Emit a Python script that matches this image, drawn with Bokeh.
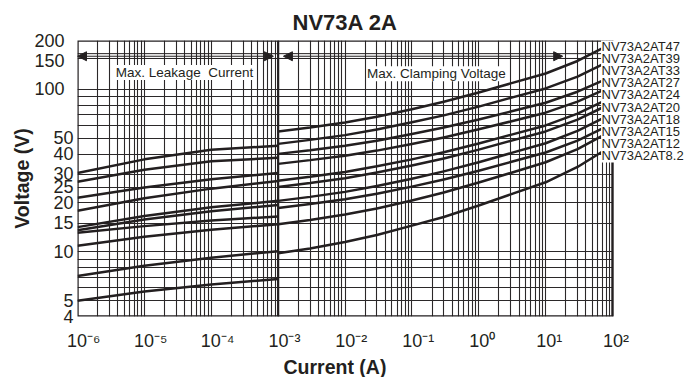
from bokeh.plotting import figure
from bokeh.models import (FixedTicker, Span, Arrow, NormalHead, Label, LabelSet,
                          ColumnDataSource, BoxAnnotation, Title)
from bokeh.core.properties import value
from bokeh.embed import file_html
from bokeh.resources import INLINE
import math

# ---------------- data ----------------
title_text = "NV73A 2A"
x_title = "Current (A)"
y_title = "Voltage (V)"
leak_text = "Max. Leakage\u00a0 Current"
clamp_text = "Max. Clamping Voltage"

parts = ["NV73A2AT47", "NV73A2AT39", "NV73A2AT33", "NV73A2AT27", "NV73A2AT24",
         "NV73A2AT20", "NV73A2AT18", "NV73A2AT15", "NV73A2AT12", "NV73A2AT8.2"]

current_leak = [1e-6, 1e-5, 1e-4, 1e-3]
current_clamp = [1e-3, 3e-3, 1e-2, 3e-2, 0.1, 0.3, 1, 3, 10, 30, 70]

leak_47 = [30.6, 37.1, 42.5, 45.0]
leak_39 = [27.0, 32.0, 36.1, 37.9]
leak_33 = [21.5, 24.9, 28.0, 30.6]
leak_27 = [17.9, 21.4, 24.5, 27.3]
leak_24 = [14.2, 16.6, 18.8, 20.6]
leak_20 = [13.6, 15.8, 17.8, 19.4]
leak_18 = [13.1, 14.4, 15.6, 16.5]
leak_15 = [10.9, 12.4, 13.7, 14.8]
leak_12 = [7.1, 8.2, 9.2, 10.1]
leak_8p2 = [5.0, 5.7, 6.3, 6.8]

clamp_47 = [55.0, 58.3, 62.5, 67.9, 75.5, 84.0, 95.7, 108.9, 125.3, 149.6, 178.6]
clamp_39 = [46.2, 48.9, 52.3, 56.6, 62.7, 69.2, 78.3, 88.7, 101.4, 119.9, 141.9]
clamp_33 = [40.1, 42.2, 45.0, 48.3, 53.1, 58.2, 65.3, 73.1, 82.8, 96.8, 113.0]
clamp_27 = [34.8, 36.7, 39.1, 42.0, 46.1, 50.6, 56.8, 63.5, 71.9, 84.1, 98.2]
clamp_24 = [27.4, 29.0, 31.0, 33.6, 37.1, 41.0, 46.4, 52.5, 60.0, 71.0, 83.9]
clamp_20 = [25.1, 26.5, 28.4, 30.8, 34.0, 37.6, 42.6, 48.2, 55.1, 65.2, 77.1]
clamp_18 = [20.6, 21.8, 23.4, 25.4, 28.2, 31.3, 35.6, 40.5, 46.6, 55.5, 66.1]
clamp_15 = [18.6, 19.7, 21.1, 22.8, 25.2, 27.9, 31.6, 35.7, 40.9, 48.4, 57.3]
clamp_12 = [14.8, 15.7, 17.0, 18.5, 20.7, 23.2, 26.7, 30.6, 35.6, 42.9, 51.8]
clamp_8p2 = [9.8, 10.5, 11.5, 12.7, 14.5, 16.4, 19.3, 22.6, 26.8, 33.3, 41.3]

x_ticks = [1e-6, 1e-5, 1e-4, 1e-3, 1e-2, 1e-1, 1e0, 1e1, 1e2]
x_tick_labels = ["10⁻⁶", "10⁻⁵", "10⁻⁴", "10⁻³", "10⁻²", "10⁻¹", "10⁰", "10¹", "10²"]
y_ticks = [4, 5, 10, 15, 20, 25, 30, 40, 50, 100, 150, 200]
y_tick_labels = ["4", "5", "10", "15", "20", "25", "30", "40", "50", "100", "150", "200"]
y_grid = [4, 5, 6, 7, 8, 9, 10, 15, 20, 25, 30, 40, 50, 60, 70, 80, 90, 100, 200]

leaks = [leak_47, leak_39, leak_33, leak_27, leak_24, leak_20, leak_18, leak_15, leak_12, leak_8p2]
clamps = [clamp_47, clamp_39, clamp_33, clamp_27, clamp_24, clamp_20, clamp_18, clamp_15, clamp_12, clamp_8p2]

# ---------------- layout / style ----------------
INK = "#231f20"
FONT = "Liberation Sans"
XMIN, XMAX = 1e-6, 1e2
YMIN, YMAX = 4, 200
AXIS_W = 535                      # px spanned by 1e-6 .. 1e2
PX_PER_DEC_X = AXIS_W / 8.0
EXTRA_W = 74                      # room for the part-name column, inside the frame
X_END = 10 ** (2 + EXTRA_W / PX_PER_DEC_X)
FRAME_H = 276
PX_PER_DEC_Y = FRAME_H / (math.log10(YMAX) - math.log10(YMIN))
LEFT = 77

p = figure(x_axis_type="log", y_axis_type="log",
           x_range=(XMIN, X_END), y_range=(YMIN, YMAX),
           frame_width=AXIS_W + EXTRA_W, frame_height=FRAME_H,
           min_border_left=LEFT, min_border_right=0, min_border_top=40, min_border_bottom=0,
           output_backend="svg", toolbar_location=None,
           background_fill_color="white", border_fill_color="white")

p.title.text = title_text
p.title.align = "left"
p.title.offset = 215
p.title.text_font = FONT
p.title.text_font_size = "22px"
p.title.text_font_style = "bold"
p.title.text_color = INK
p.title.standoff = 12

p.outline_line_color = None

# grids
v_grid = [m * 10.0 ** e for e in range(-6, 2) for m in range(1, 10)] + [100.0]
p.xgrid.ticker = FixedTicker(ticks=v_grid)
p.ygrid.ticker = FixedTicker(ticks=y_grid)
for g in (p.xgrid, p.ygrid):
    g.grid_line_color = "#2b2829"
    g.grid_line_width = 1.1
    g.grid_line_alpha = 1.0

# axes
for ax in (p.xaxis, p.yaxis):
    ax.axis_line_color = None
    ax.major_tick_line_color = None
    ax.minor_tick_line_color = None
    ax.major_tick_out = 0
    ax.major_tick_in = 0
    ax.minor_tick_out = 0
    ax.major_label_text_font = FONT
    ax.major_label_text_font_size = "18px"
    ax.major_label_text_color = INK
    ax.axis_label_text_font = FONT
    ax.axis_label_text_font_size = "19.5px"
    ax.axis_label_text_font_style = "bold"
    ax.axis_label_text_color = INK

p.xaxis.ticker = FixedTicker(ticks=x_ticks)
p.xaxis.major_label_overrides = {
    t: ("\u2002\u2009" if "⁻" in lab else "\u2009\u2009") + lab
    for t, lab in zip(x_ticks, x_tick_labels)}
p.xaxis.major_label_standoff = 14

p.yaxis.ticker = FixedTicker(ticks=y_ticks)
p.yaxis.major_label_overrides = {
    t: lab + ("\u2002" if len(lab) == 3 else "")
    for t, lab in zip(y_ticks, y_tick_labels)}
p.yaxis.axis_label = y_title
p.yaxis.major_label_standoff = 4
p.yaxis.axis_label_standoff = -2

p.add_layout(Title(text=x_title, align="left", offset=206, vertical_align="top",
                   standoff=4, text_font=FONT, text_font_size="19.5px",
                   text_font_style="bold", text_color=INK), "below")

# blank strip right of 1e2 (the part-name column)
p.add_layout(BoxAnnotation(left=XMAX, right=X_END * 2, top=YMAX * 2, bottom=YMIN / 2,
                           fill_color="white", fill_alpha=1.0, line_alpha=0.0,
                           level="underlay"))

# frame of the chart area
p.add_layout(BoxAnnotation(left=XMIN, right=XMAX, top=YMAX, bottom=YMIN,
                           fill_alpha=0.0, line_color=INK, line_width=2.4,
                           line_alpha=1.0))

# special lines
p.add_layout(Span(location=1e-3, dimension="height", line_color=INK,
                  line_width=2.2, level="underlay"))
for loc in (155, 166):
    p.add_layout(Span(location=loc, dimension="width", line_color=INK,
                      line_width=1, level="underlay"))

# curves
for lk, cl in zip(leaks, clamps):
    p.line(current_leak, lk, line_color=INK, line_width=2.5)
    p.line(current_clamp, cl, line_color=INK, line_width=2.5)

# arrows
arrow_y = 160
def head():
    return NormalHead(size=9, fill_color=INK, line_color=INK, line_width=1)
p.add_layout(Arrow(start=head(), end=head(), x_start=1.0e-6, y_start=arrow_y,
                   x_end=8.5e-4, y_end=arrow_y, line_color=INK, line_width=1))
p.add_layout(Arrow(start=head(), end=head(), x_start=1.2e-3, y_start=arrow_y,
                   x_end=18.0, y_end=arrow_y, line_color=INK, line_width=1))

for txt, xx, yy in ((leak_text, 10 ** -4.4, 127), (clamp_text, 10 ** -0.634, 125)):
    p.add_layout(Label(x=xx, y=yy, text=txt, text_font=FONT, text_font_size="13.5px",
                       text_color=INK, text_align="center", text_baseline="middle",
                       background_fill_color="white", background_fill_alpha=1.0))

# part-name labels on a white block at the right edge
label_x = 10 ** (-6 + (601 - LEFT) / PX_PER_DEC_X)
top_log = math.log10(YMAX)
label_y = [10 ** (top_log - (6 + 12.1 * i) / PX_PER_DEC_Y) for i in range(len(parts))]
box_bottom = 10 ** (top_log - 122 / PX_PER_DEC_Y)
p.add_layout(BoxAnnotation(left=label_x * 0.985, right=X_END * 2, top=YMAX * 2,
                           bottom=box_bottom, fill_color="white", fill_alpha=1.0,
                           line_alpha=0.0))
src = ColumnDataSource(dict(x=[label_x] * len(parts), y=label_y, text=parts))
p.add_layout(LabelSet(x="x", y="y", text="text", source=src, text_font=value(FONT),
                      text_font_size=value("13px"), text_color=INK, text_align="left",
                      text_baseline="middle"))

open("out.html", "w").write(file_html(p, INLINE))
